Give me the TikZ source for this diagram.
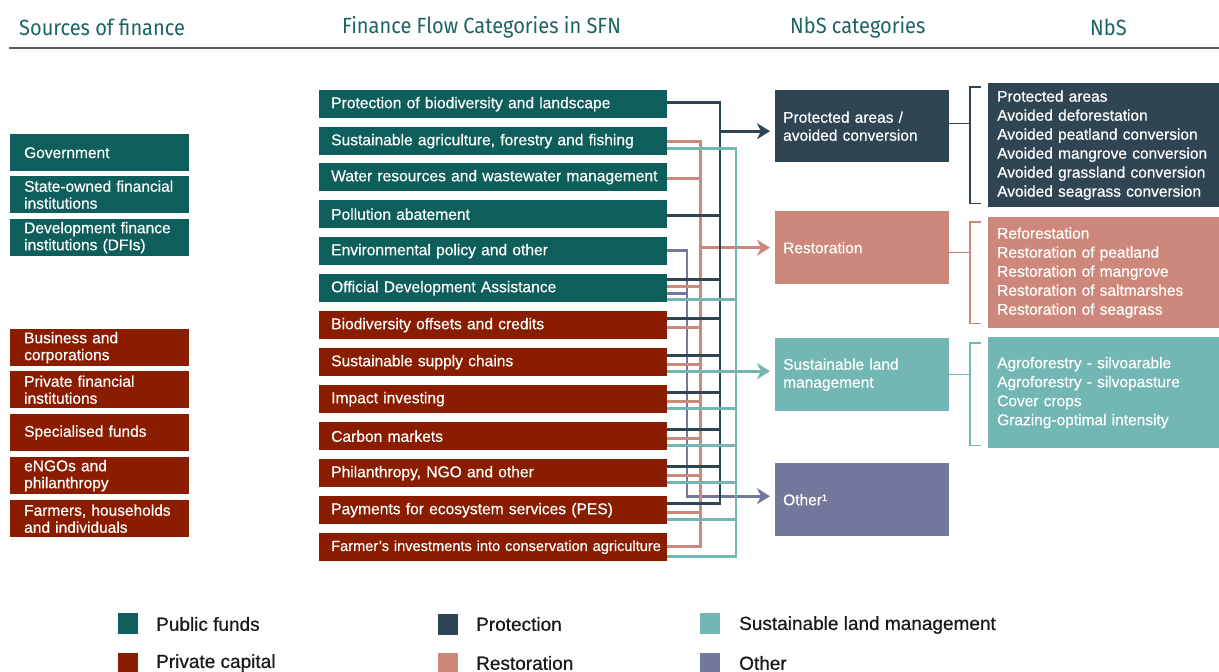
\documentclass[tikz,border=0pt]{standalone}
\usepackage{fontspec}
\setmainfont{Liberation Sans}[FakeBold=0.5]
\newfontfamily\headfont{Fira Sans}[FakeStretch=0.91]
\newfontfamily\legfont{Liberation Sans}[FakeBold=0.6]
\usetikzlibrary{arrows.meta,calc}

\definecolor{pubc}{HTML}{0E5E5B}
\definecolor{privc}{HTML}{8A1C00}
\definecolor{protc}{HTML}{2F4554}
\definecolor{restc}{HTML}{CE877B}
\definecolor{slmc}{HTML}{72B7B4}
\definecolor{othc}{HTML}{73779C}
\definecolor{headc}{HTML}{1B6462}

% tap point on the right side of a flow box, shifted down by #2
\newcommand{\tap}[3]{\coordinate (#3) at ($(#1.east)+(0,#2)$);}

\tikzset{
  headtxt/.style={anchor=west, inner sep=0pt, text=headc, font=\headfont\fontsize{22}{24}\selectfont},
  headrule/.style={draw=black!65, line width=1.4pt},
  % boxes: the left text margin is a \leftskip, so long lines never wrap
  srcbox/.style={anchor=north west, minimum height=37pt, text width=179pt, inner xsep=0pt,
    inner ysep=0pt, align=left, text=white, font=\fontsize{15.5}{17}\selectfont,
    execute at begin node={\leftskip=14pt}},
  flowbox/.style={anchor=north west, minimum height=28pt, text width=348pt, inner xsep=0pt,
    inner ysep=0pt, align=left, text=white, font=\fontsize{15.6}{17}\selectfont,
    execute at begin node={\leftskip=12pt}},
  catbox/.style={anchor=north west, minimum height=73pt, text width=174pt, inner xsep=0pt,
    inner ysep=0pt, align=left, text=white, font=\fontsize{15.5}{18}\selectfont,
    execute at begin node={\leftskip=8pt}},
  nbsbox/.style={anchor=north west, minimum height=111pt, text width=231pt, inner xsep=0pt,
    inner ysep=0pt, align=left, text=white, font=\fontsize{15.5}{19}\selectfont,
    execute at begin node={\leftskip=9pt}},
  protline/.style={draw=protc, line width=2.6pt},
  restline/.style={draw=restc, line width=2.6pt},
  slmline/.style={draw=slmc, line width=2.6pt},
  othline/.style={draw=othc, line width=2.6pt},
  brk/.style={line width=1.3pt},
  legsq/.style={anchor=north west, minimum width=20pt, minimum height=21pt, inner sep=0pt},
  legtxt/.style={anchor=west, inner sep=0pt, text=black!90, font=\legfont\fontsize{19}{21}\selectfont},
}

\begin{document}
\begin{tikzpicture}[x=1pt, y=-1pt, >={Stealth[length=13pt,width=16pt,inset=4pt]}]
  \useasboundingbox (0,0) rectangle (1219,672);

  % headings
  \node[headtxt] (h1) at (19,27) {Sources of finance};
  \node[headtxt] (h2) at (342,27) {Finance Flow Categories in SFN};
  \node[headtxt] (h3) at (790,27) {NbS categories};
  \node[headtxt] (h4) at (1090,27) {NbS};
  \draw[headrule] (9,48) -- (1219,48);

  % sources of finance
  \node[srcbox, fill=pubc] (src1) at (10,134) {Government};
  \node[srcbox, fill=pubc] (src2) at (10,176) {State-owned financial\\institutions};
  \node[srcbox, fill=pubc] (src3) at (10,219) {Development finance\\institutions (DFIs)};
  \node[srcbox, fill=privc] (src4) at (10,329) {Business and\\corporations};
  \node[srcbox, fill=privc] (src5) at (10,371) {Private financial\\institutions};
  \node[srcbox, fill=privc] (src6) at (10,414) {Specialised funds};
  \node[srcbox, fill=privc] (src7) at (10,457) {eNGOs and\\philanthropy};
  \node[srcbox, fill=privc] (src8) at (10,500) {Farmers, households\\and individuals};

  % finance flow categories
  \node[flowbox, fill=pubc] (f1) at (319,90) {Protection of biodiversity and landscape};
  \node[flowbox, fill=pubc] (f2) at (319,127) {Sustainable agriculture, forestry and fishing};
  \node[flowbox, fill=pubc] (f3) at (319,163) {Water resources and wastewater management};
  \node[flowbox, fill=pubc] (f4) at (319,200) {Pollution abatement};
  \node[flowbox, fill=pubc] (f5) at (319,237) {Environmental policy and other};
  \node[flowbox, fill=pubc] (f6) at (319,274) {Official Development Assistance};
  \node[flowbox, fill=privc] (f7) at (319,311) {Biodiversity offsets and credits};
  \node[flowbox, fill=privc] (f8) at (319,348) {Sustainable supply chains};
  \node[flowbox, fill=privc] (f9) at (319,385) {Impact investing};
  \node[flowbox, fill=privc] (f10) at (319,422) {Carbon markets};
  \node[flowbox, fill=privc] (f11) at (319,459) {Philanthropy, NGO and other};
  \node[flowbox, fill=privc] (f12) at (319,496) {Payments for ecosystem services (PES)};
  \node[flowbox, fill=privc, font=\fontsize{14.6}{17}\selectfont] (f13) at (319,533)
    {Farmer’s investments into conservation agriculture};

  % NbS categories
  \node[catbox, fill=protc, minimum height=72pt] (catP) at (775,90) {Protected areas /\\avoided conversion};
  \node[catbox, fill=restc] (catR) at (775,211) {Restoration};
  \node[catbox, fill=slmc] (catS) at (775,338) {Sustainable land\\management};
  \node[catbox, fill=othc] (catO) at (775,463) {Other¹};

  % NbS
  \node[nbsbox, fill=protc, minimum height=124pt] (nbsP) at (988,83)
    {Protected areas\\Avoided deforestation\\Avoided peatland conversion\\Avoided mangrove conversion\\Avoided grassland conversion\\Avoided seagrass conversion};
  \node[nbsbox, fill=restc] (nbsR) at (988,217)
    {Reforestation\\Restoration of peatland\\Restoration of mangrove\\Restoration of saltmarshes\\Restoration of seagrass};
  \node[nbsbox, fill=slmc] (nbsS) at (988,337)
    {Agroforestry - silvoarable\\Agroforestry - silvopasture\\Cover crops\\Grazing-optimal intensity};

  % collector lines
  \coordinate (othbus) at (687,0);
  \coordinate (restbus) at (700.5,0);
  \coordinate (protbus) at (720,0);
  \coordinate (slmbus) at (736,0);

  \tap{f1}{-2}{pr1}
  \tap{f2}{0}{re2} \tap{f2}{7}{sl2}
  \tap{f3}{1}{re3}
  \tap{f4}{1}{pr4}
  \tap{f5}{-1}{ot5}
  \tap{f6}{-9}{pr6} \tap{f6}{-2}{re6} \tap{f6}{5}{ot6} \tap{f6}{11}{sl6}
  \tap{f7}{-7}{pr7} \tap{f7}{2}{re7}
  \foreach \i in {8,...,12}{
    \tap{f\i}{-7}{pr\i} \tap{f\i}{2}{re\i} \tap{f\i}{9}{sl\i}
  }
  \tap{f13}{-1}{re13} \tap{f13}{9}{sl13}

  \coordinate (aP) at ($(catP.west)+(0,5)$);
  \coordinate (aR) at (catR.west);
  \coordinate (aO) at ($(catO.west)+(0,-3.5)$);

  % other
  \draw[othline, ->, shorten >=5pt] (ot5) -| (aO -| othbus) -- (aO);
  \draw[othline] (ot6) -- (ot6 -| othbus);

  % restoration
  \draw[restline] (re2) -| (re13 -| restbus) -- (re13);
  \foreach \t in {re3,re6,re7,re8,re9,re10,re11,re12}
    \draw[restline] (\t) -- (\t -| restbus);
  \draw[restline, ->, shorten >=5pt] (aR -| restbus) -- (aR);

  % protection
  \draw[protline] (pr1) -| (pr12 -| protbus) -- (pr12);
  \foreach \t in {pr4,pr6,pr7,pr8,pr9,pr10,pr11}
    \draw[protline] (\t) -- (\t -| protbus);
  \draw[protline, ->, shorten >=5pt] (aP -| protbus) -- (aP);

  % sustainable land management
  \draw[slmline] (sl2) -| (sl13 -| slmbus) -- (sl13);
  \foreach \t in {sl6,sl9,sl10,sl11,sl12}
    \draw[slmline] (\t) -- (\t -| slmbus);
  \draw[slmline, ->, shorten >=5pt] (sl8) -- (sl8 -| catS.west);

  % brackets
  \coordinate (kP) at ($(nbsP.west)+(-18,0)$);
  \coordinate (kR) at ($(nbsR.west)+(-18,0)$);
  \coordinate (kS) at ($(nbsS.west)+(-18,0)$);
  \draw[brk, protc] ($(nbsP.north west)+(-7,4)$) -| (kP) |- ($(nbsP.south west)+(-7,-4)$);
  \draw[brk, protc] ($(catP.east)+(0,-3)$) -- ($(catP.east -| kP)+(0,-3)$);
  \draw[brk, restc] ($(nbsR.north west)+(-7,5)$) -| (kR) |- ($(nbsR.south west)+(-7,-5)$);
  \draw[brk, restc] ($(catR.east)+(0,5)$) -- ($(catR.east -| kR)+(0,5)$);
  \draw[brk, slmc] ($(nbsS.north west)+(-7,6)$) -| (kS) |- ($(nbsS.south west)+(-7,-3)$);
  \draw[brk, slmc] (catS.east) -- (catS.east -| kS);

  % legend
  \node[legsq, fill=pubc] (k1) at (118,613) {};
  \node[legtxt] (t1) at (156,624) {Public funds};
  \node[legsq, fill=privc] (k2) at (118,653) {};
  \node[legtxt] (t2) at (156,663) {Private capital};
  \node[legsq, fill=protc] (k3) at (438,614) {};
  \node[legtxt] (t3) at (476,624) {Protection};
  \node[legsq, fill=restc] (k4) at (438,653) {};
  \node[legtxt] (t4) at (476,663) {Restoration};
  \node[legsq, fill=slmc] (k5) at (700,613) {};
  \node[legtxt] (t5) at (739,625) {Sustainable land management};
  \node[legsq, fill=othc] (k6) at (700,653) {};
  \node[legtxt] (t6) at (739,663) {Other};
\end{tikzpicture}
\end{document}
